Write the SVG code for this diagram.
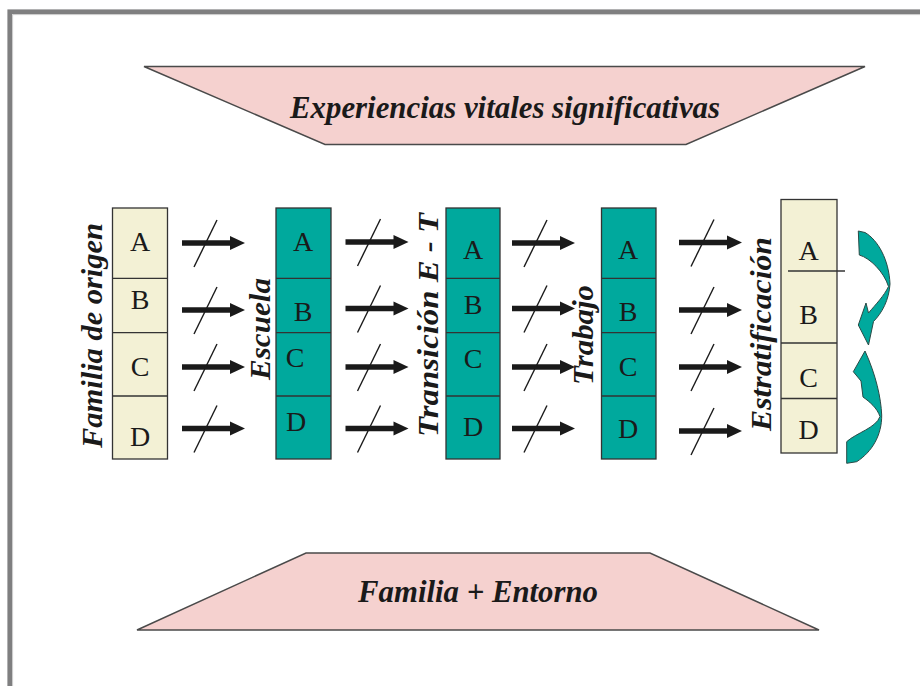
<svg xmlns="http://www.w3.org/2000/svg" xmlns:xlink="http://www.w3.org/1999/xlink" width="920" height="686" viewBox="0 0 920 686">
<style>
.trap{fill:#f5d1cf;stroke:#4a4a4a;stroke-width:1.5}
.title{font-family:"Liberation Serif","Times New Roman",serif;font-weight:bold;font-style:italic;font-size:31px;fill:#1a1a1a;text-anchor:middle}
.lab{font-family:"Liberation Serif","Times New Roman",serif;font-weight:bold;font-style:italic;font-size:30px;fill:#1a1a1a;text-anchor:middle}
.beige{fill:#f3f1d5;stroke:#333;stroke-width:1.3}
.teal{fill:#00a99d;stroke:#333;stroke-width:1.3}
.div{stroke:#333;stroke-width:1.3}
.let{font-family:"Liberation Serif","Times New Roman",serif;font-size:28px;fill:#1a1a1a;text-anchor:middle}
.curve{fill:#00a99d;stroke:#2a4a46;stroke-width:1}
</style>
<defs>
<g id="arr">
<line x1="0" y1="0" x2="49" y2="0" stroke="#1a1a1a" stroke-width="5.5"/>
<polygon points="48,-7 63,0 48,7" fill="#1a1a1a"/>
<line x1="12" y1="24" x2="35" y2="-23" stroke="#1a1a1a" stroke-width="1.4"/>
</g>
</defs>
<rect x="0" y="0" width="920" height="686" fill="#ffffff"/>
<g id="frame">
<rect x="9.7" y="11.7" width="1000" height="1000" fill="none" stroke="#7f7f80" stroke-width="4.6"/>
<rect x="12.6" y="14.6" width="1000" height="1000" fill="none" stroke="#c8c8c8" stroke-width="1"/>
</g>
<g id="experiencias">
<polygon class="trap" points="144,66.5 865,66.5 686,144.5 325,144.5"/>
<text class="title" x="505" y="118" textLength="430" lengthAdjust="spacingAndGlyphs">Experiencias vitales significativas</text>
</g>
<g id="familia-entorno">
<polygon class="trap" points="306,553 650,553 819,630 137,630"/>
<text class="title" x="478" y="601.5" textLength="240" lengthAdjust="spacingAndGlyphs">Familia + Entorno</text>
</g>
<g id="familia-origen">
<rect class="beige" x="112.5" y="208" width="55" height="251"/>
<line class="div" x1="112.5" y1="278.3" x2="167.5" y2="278.3"/>
<line class="div" x1="112.5" y1="332.7" x2="167.5" y2="332.7"/>
<line class="div" x1="112.5" y1="396" x2="167.5" y2="396"/>
<text class="let" x="140" y="251">A</text>
<text class="let" x="140" y="309">B</text>
<text class="let" x="140" y="376">C</text>
<text class="let" x="140" y="446">D</text>
<text class="lab" transform="translate(101.5,335.5) rotate(-90)" textLength="225" lengthAdjust="spacingAndGlyphs">Familia de origen</text>
</g>
<g id="escuela">
<rect class="teal" x="276" y="208" width="55" height="251"/>
<line class="div" x1="276" y1="278.3" x2="331" y2="278.3"/>
<line class="div" x1="276" y1="332.7" x2="331" y2="332.7"/>
<line class="div" x1="276" y1="396" x2="331" y2="396"/>
<text class="let" x="303" y="251">A</text>
<text class="let" x="303" y="321">B</text>
<text class="let" x="295" y="367">C</text>
<text class="let" x="296" y="431">D</text>
<text class="lab" transform="translate(270,329) rotate(-90)" textLength="102" lengthAdjust="spacingAndGlyphs">Escuela</text>
</g>
<g id="transicion">
<rect class="teal" x="446" y="208" width="54" height="251"/>
<line class="div" x1="446" y1="278.3" x2="500" y2="278.3"/>
<line class="div" x1="446" y1="332.7" x2="500" y2="332.7"/>
<line class="div" x1="446" y1="396" x2="500" y2="396"/>
<text class="let" x="473" y="259">A</text>
<text class="let" x="473" y="314">B</text>
<text class="let" x="473" y="367.5">C</text>
<text class="let" x="473" y="436">D</text>
<text class="lab" transform="translate(438,325) rotate(-90)" textLength="224" lengthAdjust="spacingAndGlyphs">Transición  E - T</text>
</g>
<g id="trabajo">
<rect class="teal" x="601.5" y="208" width="54.5" height="251"/>
<line class="div" x1="601.5" y1="278.3" x2="656" y2="278.3"/>
<line class="div" x1="601.5" y1="332.7" x2="656" y2="332.7"/>
<line class="div" x1="601.5" y1="396" x2="656" y2="396"/>
<text class="let" x="628" y="259">A</text>
<text class="let" x="628" y="321">B</text>
<text class="let" x="628" y="376">C</text>
<text class="let" x="628" y="437.5">D</text>
<text class="lab" transform="translate(593,335) rotate(-90)" textLength="100" lengthAdjust="spacingAndGlyphs">Trabajo</text>
</g>
<g id="estratificacion">
<rect class="beige" x="781" y="199.5" width="56" height="253.5"/>
<line class="div" x1="788" y1="271" x2="845" y2="271"/>
<line class="div" x1="781" y1="343" x2="837" y2="343"/>
<line class="div" x1="781" y1="398.5" x2="837" y2="398.5"/>
<text class="let" x="808.5" y="260">A</text>
<text class="let" x="808.5" y="324">B</text>
<text class="let" x="808.5" y="386.5">C</text>
<text class="let" x="808.5" y="439">D</text>
<text class="lab" transform="translate(771,334) rotate(-90)" textLength="194" lengthAdjust="spacingAndGlyphs">Estratificación</text>
</g>
<g id="connectors">
<use xlink:href="#arr" x="182" y="243"/>
<use xlink:href="#arr" x="182" y="310"/>
<use xlink:href="#arr" x="182" y="367"/>
<use xlink:href="#arr" x="182" y="428.5"/>
<use xlink:href="#arr" x="345.5" y="242"/>
<use xlink:href="#arr" x="345.5" y="308.5"/>
<use xlink:href="#arr" x="345.5" y="367"/>
<use xlink:href="#arr" x="345.5" y="428.5"/>
<use xlink:href="#arr" x="512" y="243"/>
<use xlink:href="#arr" x="512" y="308.5"/>
<use xlink:href="#arr" x="512" y="367"/>
<use xlink:href="#arr" x="512" y="428.5"/>
<use xlink:href="#arr" x="679" y="242.5"/>
<use xlink:href="#arr" x="679" y="310"/>
<use xlink:href="#arr" x="679" y="367"/>
<use xlink:href="#arr" x="679" y="431"/>
<path id="curve-down" class="curve" d="M858.3,231 L865,232.5 C878,240 889,260 890,284 C889,300 882,313 873.5,321.5 L868.5,345 L858.3,325 L866,303 L868.5,313 C876,304 884,296 888.5,286.5 C884,272 870,258 859.3,255 Z"/>
<path id="curve-up" class="curve" d="M846.7,441.7 L846.7,463.3 L856.7,461.7 C872,452 882,435 881.7,415 C881,398 876,375 865,351 L853.3,371.7 L861,381 L863,397 C870,402 877,408 880,416.5 C876,428 856,433 846.7,441.7 Z"/>
</g>
</svg>
